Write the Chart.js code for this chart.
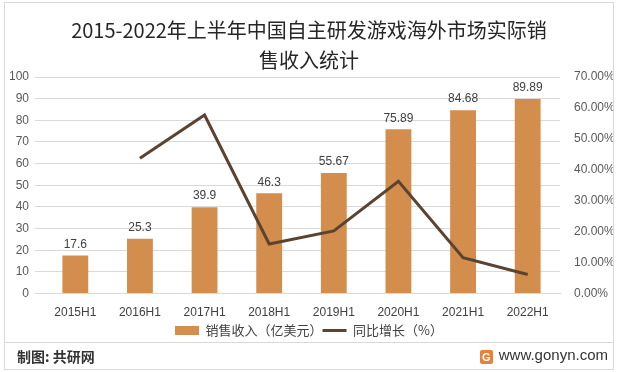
<!DOCTYPE html>
<html>
<head>
<meta charset="utf-8">
<script src="https://cdn.jsdelivr.net/npm/chart.js@4"></script>
<style>
  body { margin: 0; background: #fff; font-family: "Noto Sans CJK SC", sans-serif; }
  #frame { position: absolute; left: 4px; top: 2px; width: 608px; height: 366px; border: 1px solid #d9d9d9; }
  #wrap { position: absolute; left: 5px; top: 3px; width: 608px; height: 344px; }
  #sep { position: absolute; left: 5px; top: 342px; width: 608px; height: 1px; background: #d9d9d9; }
  #src { position: absolute; left: 17px; top: 346px; font-size: 14px; color: #333; font-weight: bold; }
  #site { position: absolute; right: 10px; top: 346px; font-size: 15px; color: #333; font-family: "Liberation Sans", sans-serif; }
  #logo { display: inline-block; width: 13px; height: 14px; background: #e8823a; color: #fff; font-size: 11px; font-weight: bold; text-align: center; line-height: 14px; border-radius: 2px; margin-right: 6px; vertical-align: -1px; }
</style>
</head>
<body>
<div id="frame"></div>
<div id="wrap"><canvas id="chart"></canvas></div>
<div id="sep"></div>
<div id="src">制图: 共研网</div>
<div id="site"><span id="logo">G</span>www.gonyn.com</div>
<script>
// 数据
const categories = ['2015H1', '2016H1', '2017H1', '2018H1', '2019H1', '2020H1', '2021H1', '2022H1'];
const revenue = [17.6, 25.3, 39.9, 46.3, 55.67, 75.89, 84.68, 89.89];
const growth = [null, 43.75, 57.7, 16.04, 20.24, 36.32, 11.58, 6.15];
const leftTicks = [0, 10, 20, 30, 40, 50, 60, 70, 80, 90, 100];
const rightTicks = [0, 10, 20, 30, 40, 50, 60, 70];

const numFont = "'Liberation Sans Narrow', 'Liberation Sans', sans-serif";
const cjkFont = "'Liberation Sans Narrow', 'Noto Sans CJK SC', sans-serif";

// 柱子上方的数值
const barLabels = {
    id: 'barLabels',
    afterDatasetsDraw(chart) {
        const ctx = chart.ctx;
        const meta = chart.getDatasetMeta(1);
        ctx.save();
        ctx.font = '12px ' + numFont;
        ctx.fillStyle = '#404040';
        ctx.textAlign = 'center';
        ctx.textBaseline = 'bottom';
        meta.data.forEach(function(bar, i) {
            ctx.fillText(String(revenue[i]), bar.x, bar.y - 5);
        });
        ctx.restore();
    }
};

new Chart(document.getElementById('chart'), {
    data: {
        labels: categories,
        datasets: [
            {
                type: 'line',
                label: '同比增长（%）',
                data: growth,
                yAxisID: 'y1',
                borderColor: '#5b4332',
                backgroundColor: '#5b4332',
                borderWidth: 3,
                pointRadius: 0,
                pointStyle: 'line',
                tension: 0,
                order: 0
            },
            {
                type: 'bar',
                label: '销售收入（亿美元）',
                data: revenue,
                yAxisID: 'y',
                backgroundColor: '#d38e4e',
                pointStyle: 'rect',
                barPercentage: 0.8,
                categoryPercentage: 0.5,
                order: 1
            }
        ]
    },
    options: {
        responsive: true,
        maintainAspectRatio: false,
        animation: false,
        layout: { padding: { top: 4, bottom: 0 } },
        plugins: {
            title: {
                display: true,
                text: ['2015-2022年上半年中国自主研发游戏海外市场实际销', '售收入统计'],
                color: '#262626',
                font: { size: 20, family: cjkFont, weight: 'normal', lineHeight: 1.5 },
                padding: { top: 8, bottom: 2 }
            },
            legend: {
                position: 'bottom',
                reverse: true,
                labels: {
                    usePointStyle: true,
                    pointStyleWidth: 24,
                    boxHeight: 9,
                    color: '#404040',
                    font: { size: 13, family: cjkFont },
                    padding: 0
                }
            },
            tooltip: { enabled: false }
        },
        scales: {
            x: {
                grid: { display: false },
                border: { color: '#d9d9d9' },
                ticks: { color: '#404040', font: { size: 12, family: numFont }, padding: 4 }
            },
            y: {
                position: 'left',
                min: 0,
                max: 100,
                afterBuildTicks: s => { s.ticks = leftTicks.map(v => ({ value: v })); },
                afterFit: s => { s.width = 38; },
                grid: { color: '#d9d9d9' },
                border: { display: false },
                ticks: { color: '#595959', font: { size: 12, family: numFont }, padding: 6 }
            },
            y1: {
                position: 'right',
                min: 0,
                max: 70,
                afterBuildTicks: s => { s.ticks = rightTicks.map(v => ({ value: v })); },
                afterFit: s => { s.width = 53; },
                grid: { display: false },
                border: { display: false },
                ticks: {
                    color: '#595959',
                    font: { size: 12, family: numFont },
                    padding: 6,
                    callback: v => v.toFixed(2) + '%'
                }
            }
        }
    },
    plugins: [barLabels]
});
</script>
</body>
</html>
